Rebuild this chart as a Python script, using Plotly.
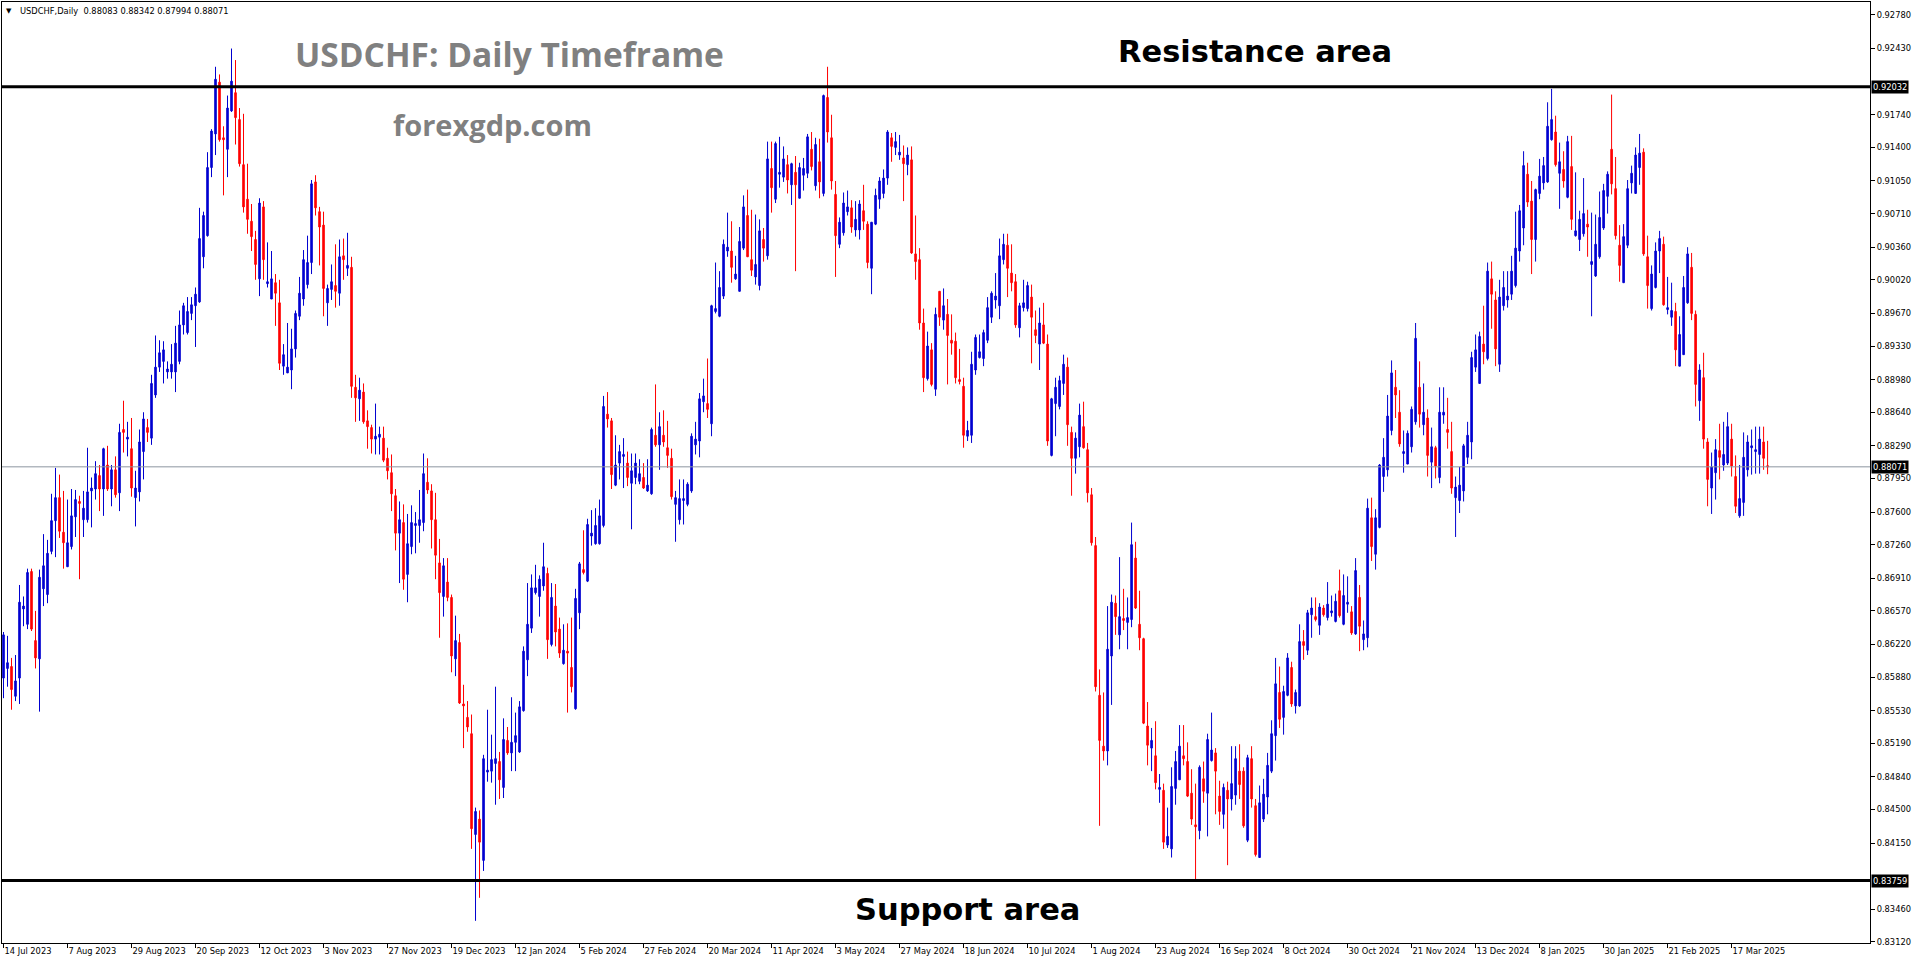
import plotly.graph_objects as go

# ---------------- data (USDCHF daily candles) ----------------
open_ = [
0.8587, 0.8597, 0.8599, 0.8568, 0.8587, 0.8659, 0.8643, 0.8698, 0.8626, 0.8607,
0.8680, 0.8674, 0.8719, 0.8751, 0.8775, 0.8739, 0.8703, 0.8724, 0.8755, 0.8771,
0.8752, 0.8752, 0.8782, 0.8784, 0.8798, 0.8784, 0.8809, 0.8784, 0.8804, 0.8780,
0.8846, 0.8836, 0.8826, 0.8775, 0.8781, 0.8823, 0.8848, 0.8837, 0.8882, 0.8911,
0.8917, 0.8906, 0.8906, 0.8906, 0.8917, 0.8955, 0.8947, 0.8967, 0.8975, 0.8979,
0.9026, 0.9048, 0.9119, 0.9154, 0.9208, 0.9150, 0.9138, 0.9178, 0.9197, 0.9169,
0.9122, 0.9086, 0.9063, 0.9044, 0.9003, 0.9078, 0.8998, 0.8982, 0.8999, 0.8978,
0.8912, 0.8905, 0.8908, 0.8930, 0.8964, 0.8982, 0.8997, 0.9020, 0.9104, 0.9073,
0.9059, 0.8978, 0.8992, 0.8996, 0.8988, 0.9027, 0.9014, 0.9015, 0.8890, 0.8878,
0.8885, 0.8855, 0.8848, 0.8836, 0.8838, 0.8837, 0.8816, 0.8801, 0.8777, 0.8738,
0.8749, 0.8695, 0.8724, 0.8746, 0.8746, 0.8749, 0.8791, 0.8782, 0.8752, 0.8707,
0.8672, 0.8687, 0.8671, 0.8607, 0.8624, 0.8560, 0.8546, 0.8529, 0.8424, 0.8440,
0.8397, 0.8489, 0.8490, 0.8498, 0.8500, 0.8473, 0.8522, 0.8509, 0.8520, 0.8510,
0.8553, 0.8606, 0.8639, 0.8676, 0.8672, 0.8683, 0.8696, 0.8622, 0.8662, 0.8638,
0.8602, 0.8615, 0.8598, 0.8555, 0.8655, 0.8700, 0.8688, 0.8735, 0.8727, 0.8727,
0.8746, 0.8862, 0.8855, 0.8788, 0.8811, 0.8818, 0.8811, 0.8790, 0.8796, 0.8792,
0.8796, 0.8782, 0.8779, 0.8840, 0.8830, 0.8840, 0.8827, 0.8816, 0.8768, 0.8752,
0.8772, 0.8768, 0.8782, 0.8830, 0.8834, 0.8875, 0.8873, 0.8852, 0.8969, 0.8964,
0.8985, 0.9032, 0.9032, 0.9003, 0.8990, 0.9035, 0.9069, 0.9023, 0.9005, 0.8996,
0.9044, 0.9027, 0.9118, 0.9086, 0.9112, 0.9109, 0.9122, 0.9101, 0.9114, 0.9087,
0.9111, 0.9113, 0.9138, 0.9100, 0.9125, 0.9092, 0.9192, 0.9150, 0.9091, 0.9039,
0.9051, 0.9073, 0.9077, 0.9054, 0.9054, 0.9074, 0.9060, 0.9014, 0.9060, 0.9086,
0.9092, 0.9108, 0.9150, 0.9140, 0.9132, 0.9129, 0.9122, 0.9127, 0.9029, 0.9023,
0.8957, 0.8899, 0.8929, 0.8888, 0.8990, 0.8960, 0.8966, 0.8939, 0.8938, 0.8898,
0.8891, 0.8839, 0.8840, 0.8908, 0.8921, 0.8920, 0.8939, 0.8963, 0.8981, 0.8975,
0.9023, 0.9038, 0.9009, 0.9000, 0.8952, 0.8973, 0.8972, 0.8984, 0.8950, 0.8935,
0.8955, 0.8935, 0.8819, 0.8873, 0.8870, 0.8894, 0.8911, 0.8843, 0.8816, 0.8828,
0.8849, 0.8825, 0.8778, 0.8725, 0.8569, 0.8516, 0.8511, 0.8610, 0.8665, 0.8632,
0.8649, 0.8645, 0.8648, 0.8712, 0.8643, 0.8628, 0.8537, 0.8514, 0.8506, 0.8471,
0.8470, 0.8413, 0.8409, 0.8472, 0.8481, 0.8506, 0.8500, 0.8467, 0.8434, 0.8428,
0.8482, 0.8467, 0.8501, 0.8509, 0.8464, 0.8445, 0.8470, 0.8461, 0.8465, 0.8490,
0.8490, 0.8418, 0.8503, 0.8454, 0.8400, 0.8440, 0.8463, 0.8490, 0.8527, 0.8572,
0.8546, 0.8569, 0.8598, 0.8558, 0.8558, 0.8625, 0.8616, 0.8653, 0.8651, 0.8642,
0.8660, 0.8650, 0.8655, 0.8646, 0.8678, 0.8643, 0.8664, 0.8656, 0.8633, 0.8671,
0.8627, 0.8629, 0.8754, 0.8716, 0.8744, 0.8797, 0.8804, 0.8845, 0.8890, 0.8864,
0.8821, 0.8810, 0.8828, 0.8854, 0.8890, 0.8851, 0.8858, 0.8812, 0.8827, 0.8796,
0.8861, 0.8846, 0.8823, 0.8775, 0.8772, 0.8782, 0.8817, 0.8833, 0.8911, 0.8894,
0.8935, 0.8920, 0.9003, 0.8981, 0.8914, 0.8975, 0.8981, 0.8987, 0.8996, 0.9032,
0.9056, 0.9112, 0.9084, 0.9044, 0.9092, 0.9103, 0.9104, 0.9148, 0.9156, 0.9113,
0.9117, 0.9088, 0.9120, 0.9048, 0.9044, 0.9050, 0.9060, 0.9018, 0.9006, 0.9026,
0.9056, 0.9089, 0.9138, 0.9097, 0.9038, 0.8999, 0.9038, 0.9103, 0.9092, 0.9119,
0.9135, 0.9026, 0.8972, 0.8994, 0.9032, 0.9039, 0.8971, 0.8963, 0.8969, 0.8912,
0.8924, 0.8978, 0.9015, 0.8966, 0.8876, 0.8900, 0.8833, 0.8785, 0.8801, 0.8824,
0.8809, 0.8811, 0.8836, 0.8797, 0.8756, 0.8770, 0.8804, 0.8827, 0.8823, 0.8820,
0.8833, 0.88083]

high = [
0.8635, 0.8631, 0.8608, 0.8611, 0.8684, 0.8672, 0.8701, 0.8701, 0.8657, 0.8700,
0.8737, 0.8731, 0.8779, 0.8806, 0.8799, 0.8782, 0.8773, 0.8784, 0.8783, 0.8777,
0.8782, 0.8827, 0.8796, 0.8813, 0.8809, 0.8827, 0.8829, 0.8809, 0.8818, 0.8852,
0.8876, 0.8854, 0.8858, 0.8803, 0.8846, 0.8864, 0.8857, 0.8903, 0.8944, 0.8939,
0.8938, 0.8917, 0.8935, 0.8954, 0.8970, 0.8978, 0.8984, 0.8984, 0.8994, 0.9077,
0.9073, 0.9135, 0.9159, 0.9224, 0.9216, 0.9162, 0.9194, 0.9243, 0.9231, 0.9181,
0.9175, 0.9123, 0.9081, 0.9053, 0.9087, 0.9084, 0.9041, 0.9032, 0.9008, 0.9002,
0.8935, 0.8957, 0.8951, 0.8970, 0.9005, 0.9033, 0.9048, 0.9106, 0.9111, 0.9078,
0.9073, 0.8997, 0.9018, 0.9039, 0.9044, 0.9045, 0.9051, 0.9026, 0.8903, 0.8900,
0.8894, 0.8866, 0.8851, 0.8873, 0.8849, 0.8849, 0.8827, 0.8820, 0.8784, 0.8771,
0.8768, 0.8758, 0.8767, 0.8760, 0.8783, 0.8821, 0.8816, 0.8789, 0.8780, 0.8732,
0.8712, 0.8712, 0.8674, 0.8652, 0.8633, 0.8580, 0.8563, 0.8549, 0.8452, 0.8449,
0.8507, 0.8554, 0.8528, 0.8578, 0.8510, 0.8545, 0.8536, 0.8567, 0.8551, 0.8563,
0.8620, 0.8686, 0.8695, 0.8705, 0.8694, 0.8728, 0.8702, 0.8686, 0.8685, 0.8650,
0.8643, 0.8644, 0.8650, 0.8680, 0.8708, 0.8741, 0.8753, 0.8762, 0.8764, 0.8773,
0.8881, 0.8885, 0.8858, 0.8840, 0.8830, 0.8837, 0.8823, 0.8821, 0.8821, 0.8815,
0.8811, 0.8815, 0.8848, 0.8893, 0.8864, 0.8866, 0.8855, 0.8826, 0.8782, 0.8794,
0.8794, 0.8791, 0.8842, 0.8854, 0.8884, 0.8899, 0.8920, 0.8976, 0.9020, 0.9011,
0.9044, 0.9072, 0.9063, 0.9027, 0.9057, 0.9090, 0.9096, 0.9075, 0.9070, 0.9065,
0.9056, 0.9146, 0.9146, 0.9146, 0.9151, 0.9141, 0.9132, 0.9124, 0.9131, 0.9124,
0.9129, 0.9154, 0.9156, 0.9150, 0.9149, 0.9195, 0.9224, 0.9174, 0.9105, 0.9067,
0.9093, 0.9095, 0.9085, 0.9084, 0.9085, 0.9101, 0.9063, 0.9062, 0.9097, 0.9109,
0.9117, 0.9158, 0.9155, 0.9156, 0.9153, 0.9142, 0.9140, 0.9141, 0.9069, 0.9035,
0.8972, 0.8948, 0.8936, 0.8973, 0.8990, 0.8993, 0.8982, 0.8966, 0.8947, 0.8930,
0.8900, 0.8855, 0.8927, 0.8945, 0.8945, 0.8950, 0.8984, 0.8990, 0.9009, 0.9045,
0.9050, 0.9050, 0.9039, 0.9008, 0.8978, 0.9002, 0.9000, 0.8997, 0.8970, 0.8973,
0.8978, 0.8945, 0.8879, 0.8900, 0.8902, 0.8924, 0.8921, 0.8849, 0.8843, 0.8873,
0.8875, 0.8832, 0.8785, 0.8734, 0.8596, 0.8572, 0.8662, 0.8674, 0.8673, 0.8713,
0.8680, 0.8671, 0.8749, 0.8729, 0.8678, 0.8629, 0.8562, 0.8535, 0.8542, 0.8487,
0.8477, 0.8452, 0.8494, 0.8511, 0.8538, 0.8538, 0.8520, 0.8492, 0.8477, 0.8496,
0.8500, 0.8529, 0.8551, 0.8514, 0.8480, 0.8477, 0.8479, 0.8516, 0.8516, 0.8518,
0.8494, 0.8507, 0.8516, 0.8461, 0.8475, 0.8482, 0.8509, 0.8543, 0.8608, 0.8599,
0.8579, 0.8613, 0.8604, 0.8575, 0.8643, 0.8637, 0.8658, 0.8671, 0.8671, 0.8665,
0.8663, 0.8687, 0.8673, 0.8675, 0.8700, 0.8695, 0.8693, 0.8662, 0.8712, 0.8684,
0.8647, 0.8774, 0.8775, 0.8763, 0.8810, 0.8837, 0.8882, 0.8918, 0.8908, 0.8887,
0.8845, 0.8845, 0.8870, 0.8957, 0.8917, 0.8894, 0.8867, 0.8848, 0.8829, 0.8890,
0.8890, 0.8879, 0.8854, 0.8797, 0.8807, 0.8831, 0.8854, 0.8927, 0.8945, 0.8948,
0.8975, 0.9020, 0.9021, 0.8990, 0.9002, 0.9011, 0.9011, 0.9027, 0.9073, 0.9080,
0.9136, 0.9124, 0.9105, 0.9097, 0.9128, 0.9130, 0.9187, 0.9201, 0.9173, 0.9145,
0.9136, 0.9152, 0.9152, 0.9114, 0.9074, 0.9108, 0.9075, 0.9072, 0.9070, 0.9094,
0.9102, 0.9115, 0.9195, 0.9130, 0.9059, 0.9060, 0.9106, 0.9121, 0.9140, 0.9154,
0.9139, 0.9048, 0.9017, 0.9041, 0.9053, 0.9047, 0.9005, 0.8999, 0.8978, 0.8964,
0.9006, 0.9036, 0.9030, 0.8970, 0.8914, 0.8926, 0.8837, 0.8822, 0.8836, 0.8852,
0.8854, 0.8864, 0.8852, 0.8819, 0.8809, 0.8843, 0.8840, 0.8846, 0.8849, 0.8849,
0.8849, 0.88342]

low = [
0.8566, 0.8578, 0.8554, 0.8563, 0.8560, 0.8641, 0.8638, 0.8636, 0.8597, 0.8552,
0.8662, 0.8665, 0.8716, 0.8713, 0.8733, 0.8701, 0.8703, 0.8721, 0.8734, 0.8690,
0.8734, 0.8749, 0.8744, 0.8773, 0.8761, 0.8756, 0.8782, 0.8766, 0.8775, 0.8761,
0.8822, 0.8818, 0.8776, 0.8745, 0.8771, 0.8794, 0.8833, 0.8830, 0.8879, 0.8906,
0.8894, 0.8899, 0.8899, 0.8885, 0.8914, 0.8945, 0.8945, 0.8960, 0.8932, 0.8978,
0.9014, 0.9047, 0.9109, 0.9132, 0.9146, 0.9090, 0.9109, 0.9177, 0.9143, 0.9120,
0.9072, 0.9050, 0.9032, 0.9002, 0.8985, 0.9002, 0.8994, 0.8982, 0.8954, 0.8908,
0.8903, 0.8905, 0.8888, 0.8921, 0.8960, 0.8975, 0.8993, 0.9008, 0.9069, 0.9017,
0.8964, 0.8954, 0.8981, 0.8973, 0.8975, 0.9002, 0.9006, 0.8879, 0.8854, 0.8855,
0.8852, 0.8826, 0.8821, 0.8820, 0.8820, 0.8812, 0.8794, 0.8761, 0.8720, 0.8686,
0.8679, 0.8666, 0.8716, 0.8717, 0.8728, 0.8740, 0.8779, 0.8722, 0.8690, 0.8629,
0.8651, 0.8667, 0.8593, 0.8589, 0.8560, 0.8514, 0.8531, 0.8409, 0.8334, 0.8358,
0.8386, 0.8479, 0.8478, 0.8455, 0.8461, 0.8462, 0.8507, 0.8490, 0.8490, 0.8509,
0.8552, 0.8589, 0.8634, 0.8674, 0.8651, 0.8678, 0.8607, 0.8620, 0.8620, 0.8608,
0.8601, 0.8551, 0.8572, 0.8554, 0.8638, 0.8695, 0.8687, 0.8725, 0.8726, 0.8726,
0.8744, 0.8848, 0.8784, 0.8787, 0.8794, 0.8785, 0.8787, 0.8742, 0.8789, 0.8789,
0.8784, 0.8781, 0.8778, 0.8828, 0.8804, 0.8828, 0.8806, 0.8773, 0.8729, 0.8747,
0.8747, 0.8766, 0.8780, 0.8820, 0.8817, 0.8864, 0.8858, 0.8839, 0.8967, 0.8963,
0.8982, 0.9026, 0.8999, 0.9002, 0.8990, 0.9033, 0.9026, 0.9006, 0.8997, 0.8991,
0.9021, 0.9023, 0.9072, 0.9082, 0.9098, 0.9104, 0.9092, 0.9080, 0.9011, 0.9087,
0.9095, 0.9108, 0.9116, 0.9095, 0.9087, 0.9089, 0.9145, 0.9096, 0.9005, 0.9035,
0.9048, 0.9069, 0.9051, 0.9047, 0.9044, 0.9054, 0.9014, 0.8987, 0.9059, 0.9076,
0.9087, 0.9101, 0.9125, 0.9132, 0.9127, 0.9084, 0.9111, 0.9029, 0.9002, 0.8950,
0.8885, 0.8897, 0.8891, 0.8881, 0.8954, 0.8950, 0.8893, 0.8924, 0.8894, 0.8893,
0.8827, 0.8834, 0.8832, 0.8903, 0.8920, 0.8912, 0.8936, 0.8957, 0.8972, 0.8961,
0.9018, 0.8984, 0.8990, 0.8952, 0.8942, 0.8969, 0.8969, 0.8915, 0.8936, 0.8908,
0.8935, 0.8829, 0.8818, 0.8839, 0.8867, 0.8882, 0.8829, 0.8777, 0.8800, 0.8817,
0.8826, 0.8770, 0.8725, 0.8573, 0.8433, 0.8501, 0.8496, 0.8559, 0.8632, 0.8617,
0.8637, 0.8617, 0.8640, 0.8659, 0.8616, 0.8539, 0.8496, 0.8490, 0.8471, 0.8457,
0.8409, 0.8410, 0.8400, 0.8455, 0.8481, 0.8496, 0.8463, 0.8434, 0.8377, 0.8419,
0.8457, 0.8422, 0.8500, 0.8445, 0.8434, 0.8430, 0.8392, 0.8449, 0.8455, 0.8461,
0.8431, 0.8416, 0.8452, 0.8401, 0.8400, 0.8437, 0.8445, 0.8488, 0.8501, 0.8535,
0.8528, 0.8568, 0.8557, 0.8550, 0.8557, 0.8606, 0.8611, 0.8629, 0.8646, 0.8632,
0.8651, 0.8647, 0.8651, 0.8645, 0.8650, 0.8642, 0.8655, 0.8632, 0.8632, 0.8615,
0.8616, 0.8619, 0.8709, 0.8700, 0.8743, 0.8781, 0.8797, 0.8840, 0.8858, 0.8828,
0.8801, 0.8810, 0.8822, 0.8851, 0.8848, 0.8840, 0.8797, 0.8785, 0.8795, 0.8790,
0.8852, 0.8826, 0.8779, 0.8734, 0.8759, 0.8771, 0.8810, 0.8815, 0.8906, 0.8894,
0.8914, 0.8918, 0.8951, 0.8912, 0.8906, 0.8970, 0.8973, 0.8981, 0.8994, 0.9021,
0.9038, 0.9078, 0.9008, 0.9021, 0.9086, 0.9096, 0.9103, 0.9147, 0.9120, 0.9076,
0.9098, 0.9087, 0.9054, 0.9047, 0.9032, 0.9047, 0.9026, 0.8964, 0.9005, 0.9024,
0.9054, 0.9071, 0.9091, 0.9044, 0.9000, 0.8999, 0.9035, 0.9092, 0.9092, 0.9101,
0.9027, 0.8972, 0.8970, 0.8993, 0.9009, 0.8975, 0.8966, 0.8954, 0.8912, 0.8912,
0.8924, 0.8977, 0.8960, 0.8870, 0.8855, 0.8826, 0.8766, 0.8758, 0.8773, 0.8794,
0.8803, 0.8809, 0.8797, 0.8759, 0.8754, 0.8756, 0.8797, 0.8799, 0.8800, 0.8800,
0.8804, 0.87994]

close = [
0.8632, 0.8603, 0.8575, 0.8584, 0.8666, 0.8662, 0.8697, 0.8638, 0.8608, 0.8692,
0.8704, 0.8717, 0.8751, 0.8775, 0.8740, 0.8728, 0.8728, 0.8756, 0.8773, 0.8769,
0.8764, 0.8781, 0.8785, 0.8800, 0.8784, 0.8826, 0.8784, 0.8804, 0.8778, 0.8843,
0.8843, 0.8838, 0.8785, 0.8785, 0.8833, 0.8857, 0.8843, 0.8894, 0.8911, 0.8926,
0.8929, 0.8909, 0.8914, 0.8936, 0.8955, 0.8975, 0.8969, 0.8976, 0.8987, 0.9045,
0.9069, 0.9119, 0.9157, 0.9211, 0.9148, 0.9148, 0.9181, 0.9209, 0.9171, 0.9123,
0.9078, 0.9065, 0.9047, 0.9018, 0.9082, 0.9023, 0.9000, 0.9003, 0.8988, 0.8915,
0.8924, 0.8911, 0.8930, 0.8967, 0.8988, 0.9023, 0.9020, 0.9102, 0.9077, 0.9057,
0.8993, 0.8993, 0.9000, 0.8990, 0.9026, 0.9023, 0.9017, 0.8891, 0.8879, 0.8887,
0.8854, 0.8849, 0.8836, 0.8839, 0.8841, 0.8814, 0.8803, 0.8779, 0.8738, 0.8752,
0.8690, 0.8727, 0.8749, 0.8748, 0.8752, 0.8800, 0.8783, 0.8752, 0.8715, 0.8676,
0.8704, 0.8671, 0.8610, 0.8626, 0.8561, 0.8558, 0.8536, 0.8430, 0.8448, 0.8416,
0.8503, 0.8491, 0.8502, 0.8503, 0.8481, 0.8523, 0.8509, 0.8520, 0.8527, 0.8557,
0.8615, 0.8643, 0.8681, 0.8681, 0.8690, 0.8703, 0.8627, 0.8671, 0.8635, 0.8613,
0.8616, 0.8613, 0.8578, 0.8670, 0.8706, 0.8697, 0.8747, 0.8738, 0.8746, 0.8756,
0.8870, 0.8857, 0.8799, 0.8809, 0.8823, 0.8820, 0.8796, 0.8803, 0.8811, 0.8800,
0.8785, 0.8788, 0.8846, 0.8830, 0.8849, 0.8833, 0.8819, 0.8776, 0.8775, 0.8774,
0.8774, 0.8789, 0.8839, 0.8836, 0.8878, 0.8881, 0.8867, 0.8975, 0.8972, 0.8994,
0.9039, 0.9036, 0.9015, 0.9008, 0.9042, 0.9078, 0.9026, 0.9012, 0.9018, 0.9053,
0.9035, 0.9128, 0.9098, 0.9144, 0.9114, 0.9128, 0.9106, 0.9123, 0.9101, 0.9119,
0.9118, 0.9151, 0.9120, 0.9143, 0.9104, 0.9194, 0.9156, 0.9105, 0.9048, 0.9062,
0.9082, 0.9078, 0.9057, 0.9065, 0.9081, 0.9063, 0.9020, 0.9062, 0.9090, 0.9105,
0.9108, 0.9156, 0.9141, 0.9146, 0.9135, 0.9123, 0.9132, 0.9030, 0.9021, 0.8957,
0.8900, 0.8933, 0.8893, 0.8966, 0.8963, 0.8975, 0.8944, 0.8936, 0.8900, 0.8896,
0.8840, 0.8845, 0.8914, 0.8942, 0.8927, 0.8947, 0.8973, 0.8988, 0.8985, 0.9027,
0.9039, 0.9014, 0.8999, 0.8955, 0.8975, 0.8978, 0.8996, 0.8963, 0.8944, 0.8957,
0.8936, 0.8834, 0.8878, 0.8890, 0.8897, 0.8914, 0.8851, 0.8816, 0.8837, 0.8861,
0.8827, 0.8780, 0.8728, 0.8578, 0.8522, 0.8511, 0.8617, 0.8666, 0.8651, 0.8651,
0.8647, 0.8650, 0.8726, 0.8660, 0.8629, 0.8540, 0.8517, 0.8522, 0.8478, 0.8473,
0.8416, 0.8422, 0.8474, 0.8500, 0.8516, 0.8503, 0.8464, 0.8440, 0.8432, 0.8494,
0.8469, 0.8523, 0.8512, 0.8490, 0.8448, 0.8473, 0.8461, 0.8477, 0.8503, 0.8476,
0.8433, 0.8504, 0.8461, 0.8403, 0.8457, 0.8466, 0.8496, 0.8529, 0.8581, 0.8544,
0.8573, 0.8608, 0.8560, 0.8572, 0.8625, 0.8621, 0.8655, 0.8660, 0.8648, 0.8661,
0.8653, 0.8664, 0.8657, 0.8667, 0.8652, 0.8673, 0.8666, 0.8634, 0.8699, 0.8641,
0.8633, 0.8764, 0.8724, 0.8754, 0.8809, 0.8817, 0.8860, 0.8905, 0.8882, 0.8831,
0.8823, 0.8842, 0.8867, 0.8941, 0.8862, 0.8864, 0.8819, 0.8828, 0.8808, 0.8864,
0.8864, 0.8843, 0.8785, 0.8786, 0.8788, 0.8829, 0.8840, 0.8921, 0.8929, 0.8943,
0.8927, 0.9011, 0.8987, 0.8930, 0.8984, 0.8994, 0.8985, 0.9011, 0.9035, 0.9074,
0.9121, 0.9083, 0.9044, 0.9096, 0.9110, 0.9121, 0.9162, 0.9169, 0.9122, 0.9125,
0.9105, 0.9146, 0.9065, 0.9053, 0.9065, 0.9071, 0.9057, 0.9021, 0.9039, 0.9067,
0.9095, 0.9112, 0.9102, 0.9048, 0.9017, 0.9047, 0.9097, 0.9113, 0.9132, 0.9134,
0.9029, 0.8996, 0.9008, 0.9032, 0.9045, 0.8976, 0.8973, 0.8970, 0.8929, 0.8945,
0.8994, 0.9029, 0.8967, 0.8893, 0.8908, 0.8836, 0.8794, 0.8807, 0.8825, 0.8817,
0.8820, 0.8849, 0.8808, 0.8766, 0.8774, 0.8817, 0.8833, 0.8829, 0.8825, 0.8836,
0.8816, 0.88071]

date_labels = [
    "14 Jul 2023", "7 Aug 2023", "29 Aug 2023", "20 Sep 2023", "12 Oct 2023",
    "3 Nov 2023", "27 Nov 2023", "19 Dec 2023", "12 Jan 2024", "5 Feb 2024",
    "27 Feb 2024", "20 Mar 2024", "11 Apr 2024", "3 May 2024", "27 May 2024",
    "18 Jun 2024", "10 Jul 2024", "1 Aug 2024", "23 Aug 2024", "16 Sep 2024",
    "8 Oct 2024", "30 Oct 2024", "21 Nov 2024", "13 Dec 2024", "8 Jan 2025",
    "30 Jan 2025", "21 Feb 2025", "17 Mar 2025"]
bars_per_label = 16

price_ticks = [0.92780, 0.92430, 0.91740, 0.91400, 0.91050, 0.90710,
               0.90360, 0.90020, 0.89670, 0.89330, 0.88980, 0.88640, 0.88290,
               0.87950, 0.87600, 0.87260, 0.86910, 0.86570, 0.86220, 0.85880,
               0.85530, 0.85190, 0.84840, 0.84500, 0.84150, 0.83460,
               0.83120]

resistance_level = 0.92032
support_level = 0.83759
last_price = 0.88071
header_text = "USDCHF,Daily  0.88083 0.88342 0.87994 0.88071"

assert len(open_) == len(high) == len(low) == len(close)

# ---------------- figure ----------------
W, H = 1916, 964
ML, MR, MT, MB = 2, 46, 2, 21
PW, PH = W - ML - MR, H - MT - MB


def px_x(px):
    return (px - ML) / PW


def px_y(py):
    return 1 - (py - MT) / PH


BLUE = "#0000D0"
RED = "#FF0000"
TICK_FONT = dict(family="DejaVu Sans", size=8.3, color="black")

n = len(close)
xs = list(range(n))

fig = go.Figure(go.Candlestick(
    x=xs, open=open_, high=high, low=low, close=close,
    increasing=dict(line=dict(color=BLUE, width=1), fillcolor=BLUE),
    decreasing=dict(line=dict(color=RED, width=1), fillcolor=RED),
    whiskerwidth=0, hoverinfo="skip", showlegend=False))

fig.update_layout(
    width=W, height=H,
    margin=dict(l=ML, r=MR, t=MT, b=MB, pad=0),
    paper_bgcolor="white", plot_bgcolor="white",
    boxgap=0.45, showlegend=False,
    xaxis=dict(
        range=[-0.375, 466.6], rangeslider=dict(visible=False),
        showgrid=False, zeroline=False,
        showline=True, linecolor="black", linewidth=1, mirror=True,
        tickmode="array",
        tickvals=[i * bars_per_label for i in range(len(date_labels))],
        ticktext=date_labels,
        ticks="outside", ticklen=4, tickwidth=1, tickcolor="black",
        ticklabelposition="outside right",
        tickfont=TICK_FONT, automargin=False, fixedrange=True),
    yaxis=dict(
        range=[0.83109, 0.92915], side="right",
        showgrid=False, zeroline=False,
        showline=True, linecolor="black", linewidth=1, mirror=True,
        tickmode="array", tickvals=price_ticks,
        ticktext=[f"{v:.5f}" for v in price_ticks],
        ticks="outside", ticklen=4, tickwidth=1, tickcolor="black",
        tickfont=TICK_FONT, automargin=False, fixedrange=True),
)

# horizontal levels
fig.add_shape(type="line", xref="paper", x0=0, x1=1, yref="y",
              y0=last_price, y1=last_price, line=dict(color="#8c96a0", width=1))
for lvl in (resistance_level, support_level):
    fig.add_shape(type="line", xref="paper", x0=0, x1=1, yref="y",
                  y0=lvl, y1=lvl, line=dict(color="black", width=3))

# price boxes on the scale
for lvl in (resistance_level, last_price, support_level):
    fig.add_annotation(xref="paper", x=1, xanchor="left", xshift=1,
                       yref="y", y=lvl, yanchor="middle",
                       text=f"{lvl:.5f}", showarrow=False,
                       font=dict(family="DejaVu Sans", size=8.3, color="white"),
                       bgcolor="black", borderpad=1)

# header
fig.add_annotation(xref="paper", yref="paper", x=px_x(9), y=px_y(11),
                   xanchor="center", yanchor="middle", text="\u25BC",
                   showarrow=False, font=dict(family="DejaVu Sans", size=7, color="black"))
fig.add_annotation(xref="paper", yref="paper", x=px_x(18), y=px_y(11),
                   xanchor="left", yanchor="middle", text=header_text,
                   showarrow=False, font=TICK_FONT)

# overlay texts
fig.add_annotation(xref="paper", yref="paper", x=px_x(293), y=px_y(54),
                   xanchor="left", yanchor="middle",
                   text="<b>USDCHF: Daily Timeframe</b>", showarrow=False,
                   font=dict(family="Open Sans", size=33.5, color="#808080"))
fig.add_annotation(xref="paper", yref="paper", x=px_x(391), y=px_y(124),
                   xanchor="left", yanchor="middle",
                   text="<b>forexgdp.com</b>", showarrow=False,
                   font=dict(family="Open Sans", size=29, color="#808080"))
fig.add_annotation(xref="paper", yref="paper", x=px_x(1116), y=px_y(51.5),
                   xanchor="left", yanchor="middle",
                   text="<b>Resistance area</b>", showarrow=False,
                   font=dict(family="DejaVu Sans", size=30.5, color="black"))
fig.add_annotation(xref="paper", yref="paper", x=px_x(853), y=px_y(909),
                   xanchor="left", yanchor="middle",
                   text="<b>Support area</b>", showarrow=False,
                   font=dict(family="DejaVu Sans", size=30.5, color="black"))

fig.write_html("out.html")
